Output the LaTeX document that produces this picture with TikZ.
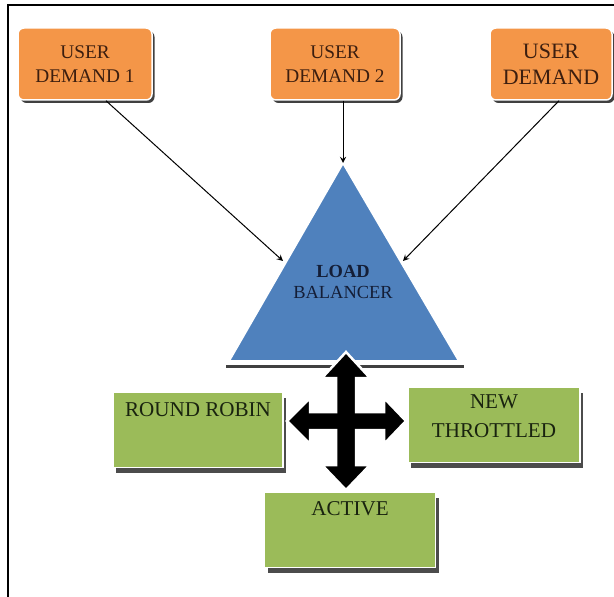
\documentclass[tikz,border=0pt]{standalone}
\usepackage{fontspec}
\setmainfont{Liberation Serif}
\usetikzlibrary{shadows}
\definecolor{demandorange}{RGB}{244, 150, 72}
\definecolor{lbblue}{RGB}{79, 129, 189}
\definecolor{algogreen}{RGB}{155, 187, 89}
\definecolor{demandtext}{RGB}{60, 30, 15}
\definecolor{lbtext}{RGB}{20, 30, 55}
\definecolor{algotext}{RGB}{25, 35, 15}
\def\pxu{0.02cm}
\tikzstyle{demand} = [
  rectangle,
  rounded corners=6*\pxu,
  fill=demandorange,
  draw=white,
  line width=1.5*\pxu,
  drop shadow={shadow xshift=2.5*\pxu, shadow yshift=-3*\pxu, fill=black!75, opacity=1},
  text=demandtext,
  align=center,
  font=\fontsize{11}{14}\selectfont,
  minimum height=72*\pxu,
]
\tikzstyle{algo} = [
  rectangle,
  fill=algogreen,
  draw=white,
  line width=1.5*\pxu,
  drop shadow={shadow xshift=3*\pxu, shadow yshift=-5*\pxu, fill=black!70, opacity=1},
  minimum width=172*\pxu,
  minimum height=75*\pxu,
]
\tikzstyle{algolabel} = [
  text=algotext,
  align=center,
  font=\fontsize{12}{16}\selectfont,
  anchor=north,
  inner sep=0pt,
]
\tikzstyle{request} = [
  ->,
  >=stealth,
  line width=1*\pxu,
]

\begin{document}
\begin{tikzpicture}[x=\pxu, y=-\pxu]
            \useasboundingbox (0,0) rectangle (614,597);

            % Frame
            \draw[line width=2*\pxu] (8,620) -- (8,5) -- (640,5);

            % User demands
            \node[demand, minimum width=134*\pxu] (d1) at (85,64) {USER\\DEMAND 1};
            \node[demand, minimum width=130*\pxu] (d2) at (335,64) {USER\\DEMAND 2};
            \node[demand, minimum width=122*\pxu, font=\fontsize{12.5}{15}\selectfont] (d3) at (551,64) {USER\\DEMAND};

            % Load balancer
            \coordinate (apex) at (343,163);
            \coordinate (bl) at (229,361);
            \coordinate (br) at (459,361);
            \draw[line width=3*\pxu, black!75] (226,366) -- (464,366);
            \draw[fill=lbblue, draw=white, line width=2*\pxu] (apex) -- (br) -- (bl) -- cycle;
            \node[text=lbtext, align=center, font=\fontsize{10.5}{12}\selectfont] (lb) at (343,282)
                {\textbf{LOAD}\\BALANCER};

            % Requests
            \coordinate (inleft) at (283,261);
            \coordinate (inright) at (403,261);
            \draw[request] (d1.south -| 106,0) -- (inleft);
            \draw[request] (d2.south -| apex) -- (apex);
            \draw[request] (d3.south -| 559,0) -- (inright);

            % Algorithms
            \node[algo, minimum width=170*\pxu] (rr) at (198,430) {};
            \node[algo] (nt) at (494,425) {};
            \node[algo, minimum width=171*\pxu] (ac) at (350,530) {};
            \node[algolabel] (rrl) at ([yshift=-10*\pxu]rr.north) {ROUND ROBIN};
            \node[algolabel] (ntl) at ([yshift=-8*\pxu]nt.north) {NEW\\THROTTLED};
            \node[algolabel] (acl) at ([yshift=-9*\pxu]ac.north) {ACTIVE};

            % Four way arrow
            \draw[fill=black, draw=white, line width=2.5*\pxu, line join=miter]
                (346,352) -- (370,378) -- (356,378) -- (356,412) -- (384,412) -- (384,398)
                -- (406,421) -- (384,444) -- (384,430) -- (356,430) -- (356,465) -- (370,465)
                -- (346,490) -- (322,465) -- (336,465) -- (336,430) -- (310,430) -- (310,444)
                -- (287,421) -- (310,398) -- (310,412) -- (336,412) -- (336,378) -- (322,378)
                -- cycle;
          \end{tikzpicture}
\end{document}
